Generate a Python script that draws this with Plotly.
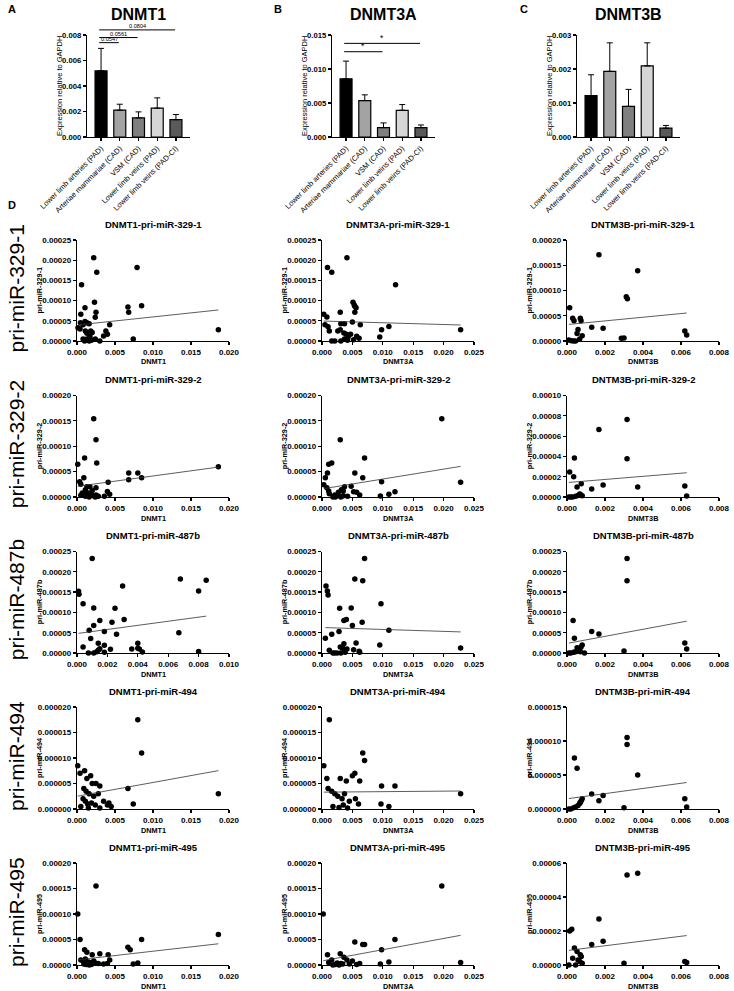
import plotly.graph_objects as go

W, H = 734, 991
FONT = "Arial, Liberation Sans, Helvetica, sans-serif"

# ---------------- data: bar panels ----------------
categories = ["Lower limb arteries (PAD)", "Arteriae mammariae (CAD)", "VSM (CAD)",
              "Lower limb veins (PAD)", "Lower limb veins (PAD-CI)"]
bar_colors = ["#000000", "#a3a3a3", "#7f7f7f", "#d6d6d6", "#5a5a5a"]

dnmt1_mean = [0.00519, 0.00210, 0.00150, 0.00226, 0.00136]
dnmt1_sem = [0.00176, 0.00047, 0.00047, 0.00081, 0.00040]
dnmt3a_mean = [0.00856, 0.00536, 0.00138, 0.00393, 0.00138]
dnmt3a_sem = [0.00260, 0.00084, 0.00069, 0.00084, 0.00039]
dnmt3b_mean = [0.00122, 0.00193, 0.00090, 0.00209, 0.00026]
dnmt3b_sem = [0.00061, 0.00084, 0.00050, 0.00068, 0.00008]

dnmt1_sig_to = [1, 2, 4]
dnmt1_sig_text = ["0.0547", "0.0561", "0.0804"]
dnmt1_sig_level = [0.0074, 0.0078, 0.0084]
dnmt3a_sig_to = [2, 4]
dnmt3a_sig_text = ["*", "*"]
dnmt3a_sig_level = [0.01254, 0.01377]

# ---------------- data: scatter panels ----------------
x_d1_3291 = [0.0022, 0.0026, 0.0006, 0.0079, 0.0023, 0.00105, 0.0067, 0.0068, 0.0085, 0.0025, 0.0005, 0.0024,
             0.0186, 0.0074, 0.0030, 0.0043, 0.0038, 0.0040, 0.0035, 0.00013, 0.0004, 0.00045, 0.0008, 0.00105,
             0.0013, 0.0016, 0.0011, 0.0013, 0.0018, 0.0020, 0.0008, 0.0010, 0.0013, 0.0016, 0.0019, 0.0024, 0.0017]
y_d1_3291 = [0.000206, 0.000170, 0.000139, 0.000182, 0.0000957, 0.0000825, 0.0000842, 0.000071, 0.0000875,
             0.000071, 0.000066, 0.0000586, 0.000028, 0.000005, 0.0, 0.00004, 0.000025, 0.0000165, 0.0000124,
             0.000033, 0.00003, 0.000045, 0.00004, 0.000048, 0.000045, 0.000043, 0.000025, 0.000019, 0.000025,
             0.000021, 0.000005, 0.0, 0.000005, 0.0, 0.000002, 0.000005, 0.000011]
x_d3a_3291 = [0.0041, 0.0009, 0.0016, 0.0121, 0.0051, 0.0053, 0.0054, 0.0056, 0.0030, 0.0054, 0.0003, 0.0008,
              0.0005, 0.0010, 0.0012, 0.0031, 0.0037, 0.0050, 0.0063, 0.0026, 0.0030, 0.0036, 0.0040, 0.0047,
              0.0057, 0.0043, 0.0061, 0.0037, 0.0052, 0.0042, 0.0016, 0.0021, 0.0031, 0.0098, 0.0095, 0.0110, 0.0228]
y_d3a_3291 = [0.000206, 0.000182, 0.00017, 0.000139, 0.0000957, 0.000089, 0.000086, 0.0000825, 0.000071, 0.000071,
              0.000066, 0.0000594, 0.00004, 0.000035, 0.000025, 0.000043, 0.000043, 0.000047, 0.00004, 0.000025,
              0.000028, 0.00002, 0.0000165, 0.0000165, 0.0000115, 0.00001, 0.0000066, 0.000005, 0.0000033,
              0.0000017, 0.0, 0.0, 0.0, 0.000028, 0.00001, 0.000036, 0.000028]
x_d3b_3291 = [0.00168, 0.00372, 0.00312, 0.00318, 0.00014, 0.0003, 0.00037, 0.0007, 0.00074, 0.0013, 0.0019,
              0.00058, 0.00053, 0.0008, 0.00067, 0.00286, 0.0030, 0.0062, 0.0063, 0.0001, 0.00023, 0.00045, 0.00035]
y_d3b_3291 = [0.000171, 0.000139, 0.0000878, 0.0000838, 0.000066, 0.0000449, 0.00004, 0.0000449, 0.00004, 0.000027,
              0.000025, 0.000023, 0.000015, 0.0000106, 0.000004, 0.0000053, 0.000006, 0.00002, 0.000012, 0.000002,
              0.0000007, 0.0, 0.0]

x_d1_3292 = [0.0022, 0.0025, 0.0010, 0.0001, 0.0026, 0.0009, 0.00035, 0.0005, 0.0068, 0.0080, 0.0068, 0.0085,
             0.0186, 0.0041, 0.0040, 0.0043, 0.0036, 0.0013, 0.0017, 0.0025, 0.0011, 0.0020, 0.0007, 0.0010,
             0.0013, 0.0015, 0.0017, 0.0019, 0.0022, 0.0025, 0.0005, 0.0011, 0.0016, 0.0024, 0.0028]
y_d1_3292 = [0.000154, 0.000113, 0.0000767, 0.0000643, 0.0000669, 0.000038, 0.00003, 0.000025, 0.0000472,
             0.0000472, 0.000034, 0.000038, 0.0000597, 0.0000289, 0.000011, 0.0000052, 0.0000013, 0.00002,
             0.00002, 0.000018, 0.0000144, 0.000013, 0.0000079, 0.0000052, 0.0000039, 0.0000079, 0.0000033,
             0.0000052, 0.0000026, 0.0000039, 0.0000033, 0.0000013, 0.0, 0.0, 0.0000013]
x_d3a_3292 = [0.0197, 0.0030, 0.0070, 0.0016, 0.0011, 0.0054, 0.0009, 0.0067, 0.00055, 0.0098, 0.0228, 0.0003,
              0.0008, 0.0048, 0.0037, 0.0011, 0.0012, 0.0032, 0.0035, 0.0027, 0.0052, 0.0057, 0.0120, 0.0110,
              0.0096, 0.0062, 0.0042, 0.0018, 0.0022, 0.0031, 0.0035, 0.0026, 0.0021]
y_d3a_3292 = [0.000154, 0.000113, 0.0000767, 0.0000669, 0.0000643, 0.0000472, 0.0000472, 0.000038, 0.000038,
              0.00003, 0.0000289, 0.0000243, 0.000018, 0.000021, 0.00002, 0.000012, 0.0000066, 0.0000144,
              0.000012, 0.0000092, 0.0000105, 0.0000092, 0.0000105, 0.0000052, 0.000002, 0.000004, 0.0000013,
              0.0, 0.0, 0.0, 0.0000026, 0.000003, 0.000004]
x_d3b_3292 = [0.00316, 0.00168, 0.00316, 0.00039, 0.00014, 0.00035, 0.00075, 0.00053, 0.0013, 0.0019, 0.00372,
              0.0062, 0.0063, 0.0001, 0.0002, 0.0003, 0.00045, 0.00058, 0.00067, 0.0007, 0.0008]
y_d3b_3292 = [0.0000764, 0.0000666, 0.0000377, 0.0000384, 0.0000246, 0.00002, 0.0000131, 0.0000098, 0.0000079,
              0.0000118, 0.0000098, 0.0000108, 0.000001, 0.0, 0.0, 0.0, 0.0000008, 0.0000016, 0.000003,
              0.0000025, 0.0000012]

x_d1_487b = [0.0010, 0.0030, 0.0068, 0.0080, 0.0085, 0.0001, 0.00013, 0.0004, 0.0011, 0.0025, 0.0015, 0.0023,
             0.0031, 0.0011, 0.0008, 0.0018, 0.0026, 0.0067, 0.0009, 0.0004, 0.0014, 0.0018, 0.0040, 0.0036,
             0.0040, 0.0041, 0.0043, 0.0022, 0.0015, 0.0014, 0.0013, 0.0011, 0.00075, 0.0018, 0.0080]
y_d1_487b = [0.000233, 0.000165, 0.000182, 0.000153, 0.000179, 0.000152, 0.000145, 0.000121, 0.000111, 0.00011,
             0.00008, 0.000076, 0.0000825, 0.0000677, 0.000056, 0.0000528, 0.0000462, 0.00005, 0.0000355,
             0.0000149, 0.000024, 0.000019, 0.000024, 0.0000099, 0.0000116, 0.0000099, 0.0000025, 0.000009,
             0.0000107, 0.0000066, 0.0000033, 0.0, 0.0, 0.0000017, 0.000004]
x_d3a_487b = [0.0070, 0.0054, 0.0067, 0.00066, 0.00088, 0.0010, 0.0097, 0.0029, 0.0048, 0.0036, 0.0040, 0.0066,
              0.0050, 0.0110, 0.0028, 0.0016, 0.00055, 0.0095, 0.0056, 0.0036, 0.0030, 0.0034, 0.0041, 0.0012,
              0.0052, 0.0061, 0.0228, 0.0018, 0.0021, 0.0025, 0.0031, 0.0038, 0.0062]
y_d3a_487b = [0.000233, 0.000182, 0.000178, 0.000165, 0.000153, 0.000143, 0.000121, 0.00011, 0.000111, 0.00008,
              0.0000825, 0.000076, 0.0000677, 0.000056, 0.0000528, 0.0000462, 0.0000363, 0.0000198, 0.0000248,
              0.000023, 0.0000149, 0.0000116, 0.0000099, 0.0000066, 0.0000083, 0.0000041, 0.0000124, 0.0, 0.0,
              0.0, 0.0, 0.0000017, 0.0000017]
x_d3b_487b = [0.00316, 0.00316, 0.00032, 0.0013, 0.00168, 0.00039, 0.0062, 0.0063, 0.0030, 0.0008, 0.00053,
              0.00067, 0.00074, 0.0006, 0.00045, 0.00035, 0.0001, 0.0002, 0.00092, 0.0007]
y_d3b_487b = [0.000233, 0.000178, 0.00008, 0.0000528, 0.000047, 0.0000363, 0.0000248, 0.0000099, 0.000005,
              0.0000198, 0.0000132, 0.0000099, 0.0000149, 0.0000066, 0.0000033, 0.0000017, 0.0, 0.0, 0.0,
              0.0000033]

x_d1_494 = [0.0080, 0.0085, 0.0186, 0.0067, 0.0001, 0.0004, 0.0010, 0.0013, 0.0018, 0.0020, 0.0025, 0.0030,
            0.0009, 0.0012, 0.0016, 0.0022, 0.0028, 0.0035, 0.0042, 0.0008, 0.0011, 0.0014, 0.0019, 0.0024,
            0.0005, 0.0015, 0.0030, 0.0074, 0.0040, 0.0045]
y_d1_494 = [0.0000175, 0.000011, 0.000003, 0.000004, 0.0000085, 0.000007, 0.0000075, 0.000006, 0.0000065,
            0.000005, 0.000005, 0.0000045, 0.000004, 0.0000035, 0.000003, 0.0000025, 0.000003, 0.0000015,
            0.0000012, 0.000002, 0.0000015, 0.000001, 0.0000012, 0.0000008, 0.0000005, 0.0000002, 0.0000002,
            0.000001, 0.0000008, 0.0000005]
x_d3a_494 = [0.0012, 0.0067, 0.0070, 0.0228, 0.0120, 0.0098, 0.0054, 0.0050, 0.0003, 0.0008, 0.0030, 0.0040,
             0.0062, 0.0010, 0.0016, 0.0021, 0.0026, 0.0033, 0.0037, 0.0045, 0.0055, 0.0060, 0.0097, 0.0110,
             0.0018, 0.0028, 0.0035, 0.0042]
y_d3a_494 = [0.0000175, 0.000011, 0.0000095, 0.000003, 0.0000045, 0.0000045, 0.000007, 0.0000065, 0.0000085,
             0.000006, 0.000006, 0.0000055, 0.0000055, 0.000004, 0.0000035, 0.000003, 0.0000025, 0.000002,
             0.000003, 0.0000015, 0.000002, 0.000001, 0.000001, 0.0000005, 0.0000005, 0.0000003, 0.0000008,
             0.0000002]
x_d3b_494 = [0.00316, 0.00316, 0.00372, 0.00039, 0.00053, 0.0062, 0.0063, 0.0013, 0.0019, 0.00168, 0.0008,
             0.0007, 0.00067, 0.00058, 0.00045, 0.00035, 0.0002, 0.0001, 0.0030, 0.00075]
y_d3b_494 = [0.0000105, 0.0000095, 0.000005, 0.0000075, 0.000006, 0.0000015, 0.0000003, 0.0000022, 0.000002,
             0.0000012, 0.0000015, 0.000001, 0.0000008, 0.0000005, 0.0000003, 0.0000002, 0.0, 0.0, 0.0000002,
             0.0000012]

x_d1_495 = [0.0025, 0.0001, 0.0004, 0.0085, 0.0186, 0.0070, 0.0067, 0.0010, 0.0013, 0.0020, 0.0030, 0.0041,
            0.0043, 0.0005, 0.0008, 0.0011, 0.0015, 0.0017, 0.0022, 0.0024, 0.0028, 0.0035, 0.0009, 0.0012,
            0.0016, 0.0019, 0.0074, 0.0080, 0.0040]
y_d1_495 = [0.000155, 0.0001, 0.00005, 0.00005, 0.00006, 0.00003, 0.000035, 0.00003, 0.000025, 0.00002,
            0.000022, 0.00002, 0.00001, 0.00001, 0.000008, 0.000012, 0.000006, 0.000005, 0.000008, 0.000004,
            0.000003, 0.000002, 0.000002, 0.000001, 0.0, 0.000001, 0.000002, 0.000004, 0.000003]
x_d3a_495 = [0.0197, 0.0002, 0.0098, 0.0120, 0.0228, 0.0054, 0.0067, 0.0070, 0.0009, 0.0016, 0.0030, 0.0036,
             0.0041, 0.0050, 0.0011, 0.0025, 0.0031, 0.0045, 0.0062, 0.0110, 0.0096, 0.0018, 0.0022, 0.0028,
             0.0034, 0.0057]
y_d3a_495 = [0.000155, 0.0001, 0.00003, 0.00005, 0.000005, 0.000045, 0.00004, 0.00004, 0.00002, 0.00001,
             0.000022, 0.000015, 0.00001, 0.000008, 0.000005, 0.000004, 0.000003, 0.000002, 0.000003, 0.000006,
             0.000002, 0.0, 0.000001, 0.0, 0.000002, 0.000001]
x_d3b_495 = [0.00316, 0.00372, 0.00168, 0.00014, 0.00025, 0.0013, 0.0019, 0.0062, 0.0063, 0.00039, 0.00053,
             0.0007, 0.00075, 0.0003, 0.00058, 0.00067, 0.0008, 0.0001, 0.0030, 0.00045]
y_d3b_495 = [0.000053, 0.000054, 0.000027, 0.00002, 0.000021, 0.000012, 0.000014, 0.000002, 0.0000015, 0.00001,
             0.000008, 0.000006, 0.000005, 0.000004, 0.000003, 0.000002, 0.000001, 0.0, 0.000001, 0.0]

# linear-fit intercepts and slopes (rows: 329-1, 329-2, 487b, 494, 495)
fit_intercept = [[0.0000396, 0.0000495, 0.0000325],
                 [0.0000210, 0.0000159, 0.0000142],
                 [0.0000479, 0.0000628, 0.0000236],
                 [0.0000025, 0.0000033, 0.0000015],
                 [0.0000100, 0.0000080, 0.0000085]]
fit_slope = [[0.00200, -0.000434, 0.00364],
             [0.00204, 0.00195, 0.00154],
             [0.00505, -0.000476, 0.00870],
             [0.00027, 0.00001, 0.00038],
             [0.00170, 0.00220, 0.00140]]

row_labels = ["pri-miR-329-1", "pri-miR-329-2", "pri-miR-487b", "pri-miR-494", "pri-miR-495"]
col_genes = ["DNMT1", "DNMT3A", "DNMT3B"]
col_title_genes = ["DNMT1", "DNMT3A", "DNTM3B"]
scatter_x = [[x_d1_3291, x_d3a_3291, x_d3b_3291], [x_d1_3292, x_d3a_3292, x_d3b_3292],
             [x_d1_487b, x_d3a_487b, x_d3b_487b], [x_d1_494, x_d3a_494, x_d3b_494],
             [x_d1_495, x_d3a_495, x_d3b_495]]
scatter_y = [[y_d1_3291, y_d3a_3291, y_d3b_3291], [y_d1_3292, y_d3a_3292, y_d3b_3292],
             [y_d1_487b, y_d3a_487b, y_d3b_487b], [y_d1_494, y_d3a_494, y_d3b_494],
             [y_d1_495, y_d3a_495, y_d3b_495]]
x_max = [[0.020, 0.025, 0.008], [0.020, 0.025, 0.008], [0.010, 0.025, 0.008],
         [0.020, 0.025, 0.008], [0.020, 0.025, 0.008]]
x_step = [[0.005, 0.005, 0.002], [0.005, 0.005, 0.002], [0.002, 0.005, 0.002],
          [0.005, 0.005, 0.002], [0.005, 0.005, 0.002]]
y_max = [[0.00025, 0.00025, 0.00020], [0.00020, 0.00020, 0.00010], [0.00025, 0.00025, 0.00025],
         [0.000020, 0.000020, 0.000015], [0.00020, 0.00020, 0.00006]]
y_step = [[0.00005, 0.00005, 0.00005], [0.00005, 0.00005, 0.00002], [0.00005, 0.00005, 0.00005],
          [0.000005, 0.000005, 0.000005], [0.00005, 0.00005, 0.00002]]
y_fmt = [".5f", ".5f", ".5f", ".6f", ".5f"]

# ---------------- layout helpers ----------------
def PX(x):
    return x / W


def PY(y):
    return 1 - y / H


fig = go.Figure()
layout = dict(width=W, height=H, autosize=False, margin=dict(l=0, r=0, t=0, b=0, pad=0, autoexpand=False),
              paper_bgcolor="white", plot_bgcolor="white", showlegend=False,
              font=dict(family=FONT, color="black"))
annotations = []
shapes = []
counter = [0]


def names():
    counter[0] += 1
    i = counter[0]
    s = "" if i == 1 else str(i)
    return "xaxis" + s, "yaxis" + s, "x" + s, "y" + s


def axis_style(**kw):
    d = dict(showline=True, linecolor="black", linewidth=1.2, ticks="outside", ticklen=3, tickwidth=1.2,
             tickcolor="black", showgrid=False, zeroline=False, fixedrange=True, automargin=False)
    d.update(kw)
    return d


def text(x, y, s, size, bold=False, angle=0, xanchor="center", yanchor="middle"):
    annotations.append(dict(x=PX(x), y=PY(y), xref="paper", yref="paper", text=s, showarrow=False,
                            textangle=angle, xanchor=xanchor, yanchor=yanchor,
                            font=dict(family=FONT, size=size, color="black",
                                      weight="bold" if bold else "normal")))


# ---------------- bar panels ----------------
bar_specs = [
    ("A", 12, "DNMT1", 87, dnmt1_mean, dnmt1_sem, 0.008, 0.002, dnmt1_sig_to, dnmt1_sig_text, dnmt1_sig_level),
    ("B", 278, "DNMT3A", 332, dnmt3a_mean, dnmt3a_sem, 0.015, 0.005, dnmt3a_sig_to, dnmt3a_sig_text, dnmt3a_sig_level),
    ("C", 524, "DNMT3B", 577, dnmt3b_mean, dnmt3b_sem, 0.003, 0.001, [], [], []),
]
BAR_TOP, BAR_BOT, BAR_W = 35, 137, 103
for letter, lx, title, x0, mean, sem, ymax, ystep, sig_to, sig_txt, sig_lvl in bar_specs:
    xa, ya, xr, yr = names()
    pos = list(range(len(categories)))
    fig.add_trace(go.Bar(x=pos, y=mean, xaxis=xr, yaxis=yr, width=0.64,
                         marker=dict(color=bar_colors, line=dict(color="black", width=1.2)),
                         error_y=dict(type="data", array=sem, arrayminus=[0] * len(sem), symmetric=False,
                                      color="black", thickness=1, width=3)))
    layout[xa] = axis_style(domain=[PX(x0), PX(x0 + BAR_W)], range=[-0.75, 4.75], anchor=yr,
                            tickvals=pos, ticktext=categories, tickangle=-45,
                            tickfont=dict(family=FONT, size=7.5, color="black"))
    layout[ya] = axis_style(domain=[PY(BAR_BOT), PY(BAR_TOP)], range=[0, ymax], dtick=ystep, anchor=xr,
                            tickformat=".3f", tickfont=dict(family=FONT, size=7.7, color="black", weight="bold"))
    text(lx, 9, letter, 11, bold=True)
    text(x0 + 51, 15, title, 16, bold=True)
    text(x0 - 28, (BAR_TOP + BAR_BOT) / 2, "Expression relative to GAPDH", 7.5, angle=-90)

    def cx(c):
        return x0 + (c + 0.75) / 5.5 * BAR_W

    def vy(v):
        return BAR_BOT - v / ymax * (BAR_BOT - BAR_TOP)

    for j, s, lvl in zip(sig_to, sig_txt, sig_lvl):
        xa_px, xb_px, y_px = cx(-0.1), cx(j - 0.05), vy(lvl)
        shapes.append(dict(type="line", xref="paper", yref="paper", x0=PX(xa_px), x1=PX(xb_px),
                           y0=PY(y_px), y1=PY(y_px), line=dict(color="black", width=1)))
        if s == "*":
            text((xa_px + xb_px) / 2, y_px + 1.5, s, 8.5, yanchor="bottom")
        else:
            text((xa_px + xb_px) / 2, y_px + 1.5, s, 5.6, yanchor="bottom")

# ---------------- scatter panels ----------------
text(12, 205, "D", 11, bold=True)
COL_X0 = [77, 322, 567]
SC_W = 152
ROW_TOP = [240, 395.5, 551.5, 707, 863]
ROW_ZERO = [341, 497, 653, 809, 965]
for r in range(5):
    top, zero = ROW_TOP[r], ROW_ZERO[r]
    text(16, (top + zero) / 2 - 2, row_labels[r], 21, angle=-90)
    for c in range(3):
        xa, ya, xr, yr = names()
        xs, ys = scatter_x[r][c], scatter_y[r][c]
        fig.add_trace(go.Scatter(x=xs, y=ys, mode="markers", xaxis=xr, yaxis=yr, cliponaxis=False,
                                 marker=dict(color="black", size=5.5, line=dict(width=0))))
        lo, hi = min(xs), max(xs)
        a, b = fit_intercept[r][c], fit_slope[r][c]
        fig.add_trace(go.Scatter(x=[lo, hi], y=[a + b * lo, a + b * hi], mode="lines", xaxis=xr, yaxis=yr,
                                 line=dict(color="#333333", width=0.8)))
        x0 = COL_X0[c]
        layout[xa] = axis_style(domain=[PX(x0), PX(x0 + SC_W)], range=[0, x_max[r][c]], dtick=x_step[r][c],
                                tick0=0, anchor=yr, tickformat=".3f",
                                tickfont=dict(family=FONT, size=8, color="black", weight="bold"))
        layout[ya] = axis_style(domain=[PY(zero), PY(top)], range=[0, y_max[r][c]], dtick=y_step[r][c],
                                tick0=0, anchor=xr, tickformat=y_fmt[r],
                                tickfont=dict(family=FONT, size=8, color="black", weight="bold"))
        text(x0 + SC_W / 2, top - 16, col_title_genes[c] + "-" + row_labels[r], 9.5, bold=True)
        text(x0 + SC_W / 2, zero + 21, col_genes[c], 7.3, bold=True)
        text(x0 - 38, (top + zero) / 2, row_labels[r], 7.3, bold=True, angle=-90)

layout["annotations"] = annotations
layout["shapes"] = shapes
fig.update_layout(**layout)
fig.write_html("out.html", config={"responsive": False, "displayModeBar": False, "staticPlot": True},
               post_script="document.body.style.margin='0px';document.body.style.padding='0px';"
                           "document.body.style.overflow='hidden';")
